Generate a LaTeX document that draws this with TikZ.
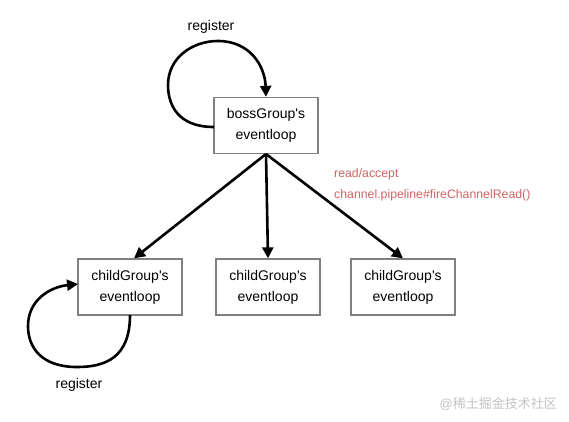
\documentclass[tikz,border=0pt]{standalone}
\usepackage{fontspec}
\setmainfont{Liberation Sans}
\newfontfamily\cjk{Noto Sans CJK SC}
\usetikzlibrary{arrows.meta}
\definecolor{boxgray}{RGB}{128,128,128}
\definecolor{redtext}{RGB}{205,100,100}
\definecolor{wmgray}{RGB}{195,195,195}
\tikzset{
  loopbox/.style={draw=boxgray, line width=1.3pt, minimum width=104pt, minimum height=56pt, align=center, font=\fontsize{14}{21}\selectfont, inner sep=0pt},
  conn/.style={line width=2.6pt, -{Triangle[length=11pt,width=11pt]}},
  lbl/.style={font=\fontsize{14}{16}\selectfont, inner sep=0pt},
  redlbl/.style={font=\fontsize{12.3}{14}\selectfont, text=redtext, anchor=west, inner sep=0pt}
}
\begin{document}
\begin{tikzpicture}[x=1pt,y=-1pt]
\useasboundingbox (0,0) rectangle (569,421);
\node[loopbox] (boss) at (266,125.5) {bossGroup\textquotesingle s\\eventloop};
\node[loopbox] (c1) at (130,287) {childGroup\textquotesingle s\\eventloop};
\node[loopbox] (c2) at (268,287) {childGroup\textquotesingle s\\eventloop};
\node[loopbox] (c3) at (403,287) {childGroup\textquotesingle s\\eventloop};
\coordinate (bs) at (266,154);
\draw[conn] (bs) -- (c1.north east -| 134,0);
\draw[conn] (bs) -- (c2.north);
\draw[conn] (bs) -- (c3.north);
% boss loop
\coordinate (bl) at (214,127);
\coordinate (bt) at (boss.north);
\draw[conn] (bl) .. controls (178,127) and (168,105) .. (168,85) .. controls (168,58) and (192,41) .. (218,41) .. controls (250,41) and (265,66) .. (bt);
\node[lbl] (reg1) at (211,27) {register};
% child loop
\coordinate (cb) at (130,315);
\coordinate (cl) at (78,284);
\draw[conn] (cb) .. controls (130,358) and (105,367) .. (77,367) .. controls (42,367) and (28,348) .. (28,326) .. controls (28,300) and (50,287) .. (cl);
\node[lbl] (reg2) at (79,385) {register};
% red labels
\node[redlbl] (ra) at (334,174) {read/accept};
\node[redlbl] (cp) at (334,195) {channel.pipeline\#fireChannelRead()};
% watermark
\node[font=\fontsize{13}{15}\selectfont, text=wmgray, anchor=east, inner sep=0pt] (wm) at (557,404) {@{\cjk 稀土掘金技术社区}};
\end{tikzpicture}
\end{document}
